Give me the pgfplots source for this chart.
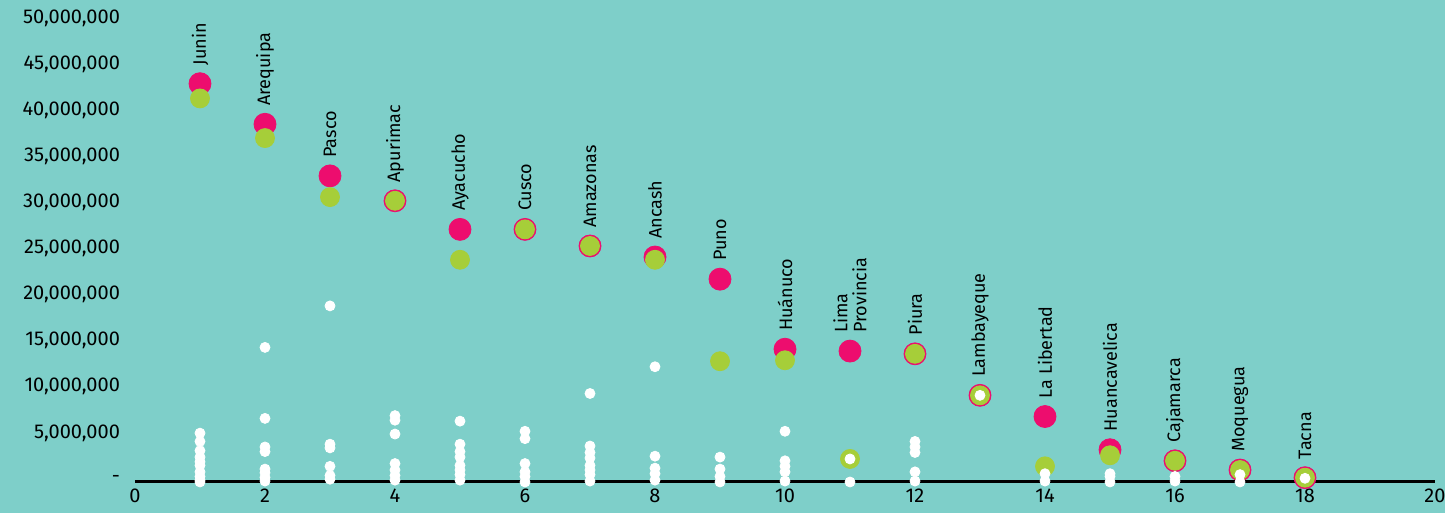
\documentclass[border=0pt]{standalone}
\usepackage{pgfplots}
\pgfplotsset{compat=1.18}
\usepackage{fontspec}
\setmainfont{Fira Sans}
\definecolor{bg}{RGB}{126,207,201}
\definecolor{mag}{RGB}{237,13,110}
\definecolor{lime}{RGB}{166,206,57}

\begin{document}
\begin{tikzpicture}
\fill[bg] (-67.5pt,-15.5pt) rectangle (655pt,241pt);
\begin{axis}[
  at={(0,0)}, anchor=south west,
  scale only axis, width=650pt, height=230.5pt,
  xmin=0, xmax=20, ymin=0, ymax=50,
  clip=false,
  axis x line*=bottom, axis y line*=left,
  axis line style={draw=none},
  tick style={draw=none},
  xtick={0,2,...,20},
  ytick={0,5,...,50},
  yticklabels={-,{5,000,000},{10,000,000},{15,000,000},{20,000,000},{25,000,000},{30,000,000},{35,000,000},{40,000,000},{45,000,000},{50,000,000}},
  /pgf/number format/assume math mode=true,
  tick label style={font=\fontsize{10}{11}\selectfont},
  yticklabel style={xshift=-4pt, yshift=1.5pt},
]
% baseline along y = 0
\addplot[black, line width=1.5pt, no marks, forget plot] coordinates {(0,0) (20,0)};
% Magenta series with names
\addplot[only marks, mark=*, color=mag, mark options={draw=none}, mark size=5.5pt,
  point meta=explicit symbolic, nodes near coords,
  every node near coord/.append style={text=black, rotate=90, anchor=west,
    inner xsep=9pt, align=left, font=\fontsize{9}{9.5}\selectfont}]
  coordinates {
  (1,43.2) [Junin]
  (2,38.8) [Arequipa]
  (3,33.2) [Pasco]
  (4,30.5) [Apurimac]
  (5,27.4) [Ayacucho]
  (6,27.4) [Cusco]
  (7,25.6) [Amazonas]
  (8,24.4) [Ancash]
  (9,22.0) [Puno]
  (10,14.4) [Huánuco]
  (11,14.2) [Lima\\Provincia]
  (12,13.9) [Piura]
  (13,9.4) [Lambayeque]
  (14,7.1) [La Libertad]
  (15,3.5) [Huancavelica]
  (16,2.3) [Cajamarca]
  (17,1.3) [Moquegua]
  (18,0.47) [Tacna]
  };
% Green series
\addplot[only marks, mark=*, color=lime, mark options={draw=none}, mark size=4.75pt]
  coordinates {
  (1,41.6) (2,37.3) (3,30.9) (4,30.5) (5,24.1) (6,27.4) (7,25.6) (8,24.1)
  (9,13.1) (10,13.2) (11,2.5) (12,13.9) (13,9.4) (14,1.7) (15,2.9)
  (16,2.3) (17,1.3) (18,0.47)
  };
% White series
\addplot[only marks, mark=*, color=white, mark options={draw=none}, mark size=2.5pt]
  coordinates {
  (1,5.3) (1,4.4) (1,3.4) (1,2.7) (1,2.2) (1,1.8) (1,1.1) (1,0.6) (1,0.2) (1,0)
  (2,14.6) (2,6.9) (2,3.8) (2,3.3) (2,1.4) (2,1.0) (2,0.5) (2,0.1)
  (3,19.1) (3,4.1) (3,3.7) (3,1.7) (3,0.7) (3,0.3)
  (4,7.2) (4,6.7) (4,5.2) (4,2.0) (4,1.3) (4,0.7) (4,0.2)
  (5,6.6) (5,4.1) (5,3.3) (5,2.7) (5,1.8) (5,1.3) (5,0.8) (5,0.2)
  (6,5.5) (6,4.7) (6,2.0) (6,1.1) (6,0.6) (6,0)
  (7,9.6) (7,3.9) (7,3.2) (7,2.6) (7,1.8) (7,1.3) (7,0.8) (7,0.1)
  (8,12.5) (8,2.8) (8,1.5) (8,0.9) (8,0.2)
  (9,2.7) (9,1.4) (9,0.6) (9,0)
  (10,5.5) (10,2.3) (10,1.7) (10,1.1) (10,0.1)
  (11,2.5) (11,0)
  (12,4.4) (12,3.8) (12,3.2) (12,1.1) (12,0.1)
  (13,9.4)
  (14,0.9) (14,0.1)
  (15,0.9) (15,0.6) (15,0)
  (16,0.6) (16,0.1)
  (17,0.8) (17,0)
  (18,0.4)
  };
\end{axis}
\pgfresetboundingbox
\useasboundingbox (-67.5pt,-15.5pt) rectangle (655pt,241pt);
\end{tikzpicture}
\end{document}
